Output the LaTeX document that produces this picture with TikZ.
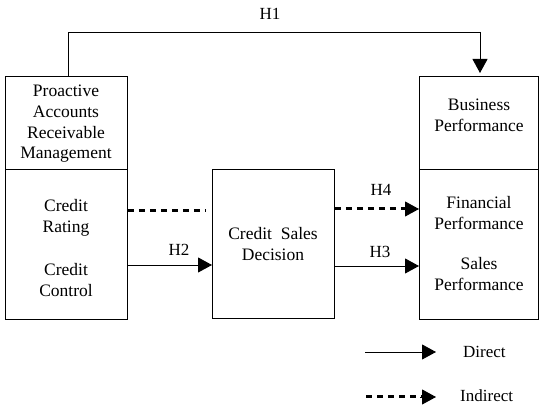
\documentclass[tikz,border=0pt]{standalone}
\usepackage{fontspec}
\setmainfont{Liberation Serif}
\usetikzlibrary{arrows.meta}
\begin{document}
\begin{tikzpicture}[x=1pt,y=1pt,
  box/.style={draw,line width=0.8pt,inner sep=0pt,anchor=north west},
  txt/.style={align=center,font=\fontsize{17.5}{20.6}\selectfont,inner sep=0pt},
  lbl/.style={font=\fontsize{17}{19}\selectfont,inner sep=0pt},
  direct/.style={line width=0.9pt,-{Triangle[length=14pt,width=15pt]}},
  indirect/.style={line width=3pt,dash pattern=on 6pt off 5pt}
]
\useasboundingbox (0,0) rectangle (539,406);
% boxes (y = 406 - pixel row)
\node[box,minimum width=122pt,minimum height=93pt] (lt) at (5,330) {};
\node[box,minimum width=122pt,minimum height=150pt] (lb) at (5,237) {};
\node[box,minimum width=122pt,minimum height=149pt] (mid) at (212,237) {};
\node[box,minimum width=119pt,minimum height=93pt] (rt) at (419,330) {};
\node[box,minimum width=119pt,minimum height=150pt] (rb) at (419,237) {};
% texts
\node[txt] (t1) at (66,282) {Proactive\\Accounts\\Receivable\\Management};
\node[txt] (t2) at (66,188) {Credit\\Rating};
\node[txt] (t3) at (66,126) {Credit\\Control};
\node[txt] (t4) at (273,162) {Credit\ \ Sales\\Decision};
\node[txt] (t5) at (479,290.5) {Business\\Performance};
\node[txt] (t6) at (479,193) {Financial\\Performance};
\node[txt] (t7) at (479,132) {Sales\\Performance};
% connectors
\coordinate (h1a) at (68,374);
\coordinate (h1b) at (480,374);
\draw[line width=0.9pt] (lt.north -| h1a) -- (h1a) -- (h1b);
\draw[direct] (h1b) -- ([yshift=3pt]rt.north -| h1b);
\node[lbl] (H1) at (270,392) {H1};
\coordinate (d1) at (205,195);
\draw[indirect] (lb.east |- d1) -- (d1);
\coordinate (h2) at (0,141);
\draw[direct] (lb.east |- h2) -- (mid.west |- h2);
\node[lbl] (H2) at (179,156) {H2};
\coordinate (h4) at (0,197);
\draw[indirect] (mid.east |- h4) -- ([xshift=-12pt]rb.west |- h4);
\draw[direct] ([xshift=-14pt]rb.west |- h4) -- (rb.west |- h4);
\node[lbl] (H4) at (381,216) {H4};
\coordinate (h3) at (0,140);
\draw[direct] (mid.east |- h3) -- (rb.west |- h3);
\node[lbl] (H3) at (380,154) {H3};
% legend
\coordinate (l1a) at (365,54);
\coordinate (l1b) at (436,54);
\draw[direct] (l1a) -- (l1b);
\node[lbl,anchor=west] (ld) at (463,54) {Direct};
\coordinate (l2a) at (366,9);
\coordinate (l2b) at (436,9);
\coordinate (l2c) at (422,9);
\draw[indirect] (l2a) -- (l2c);
\draw[direct] ([xshift=-2pt]l2c) -- (l2b);
\node[lbl,anchor=west] (li) at (460,10) {Indirect};
\end{tikzpicture}
\end{document}
